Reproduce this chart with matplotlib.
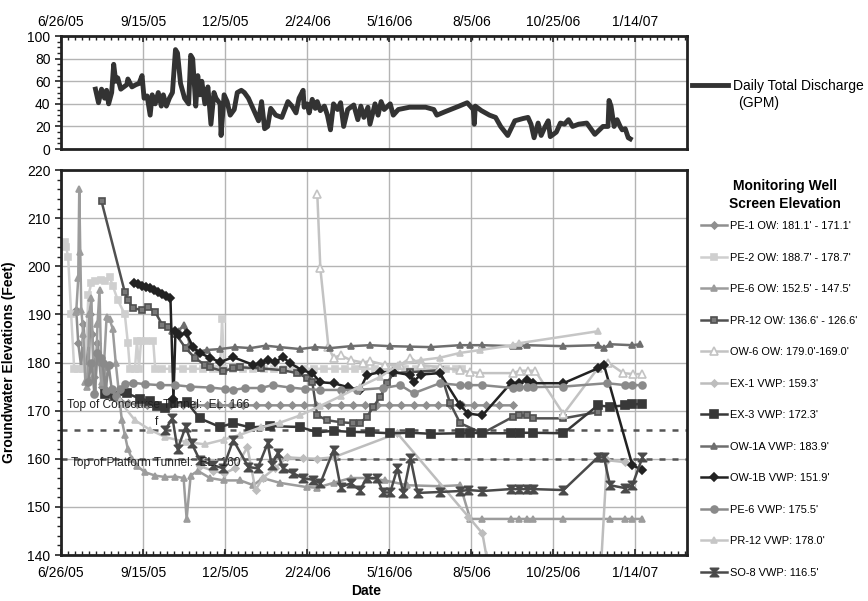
import datetime as dt
import matplotlib
matplotlib.use("Agg")
import matplotlib.pyplot as plt
from matplotlib.path import Path
from matplotlib.ticker import MultipleLocator, FuncFormatter

plt.rcParams['font.family'] = ['Liberation Sans', 'DejaVu Sans']

# x values are days since 6/26/05
START = dt.date(2005, 6, 26)

# ---- top panel: daily total discharge (GPM)
q_day = [34, 37, 40, 43, 45, 47, 50, 52, 54, 56, 59, 65, 66, 70, 74, 77, 80, 82, 85, 88,
         90, 93, 96, 99, 101, 104, 107, 110, 113, 115, 118, 122, 126, 128, 130, 133, 135, 137, 139, 142,
         145, 148, 151, 153, 157, 158, 161, 164, 167, 171, 174, 178, 181, 185, 190, 195, 198, 201, 204, 207,
         212, 218, 221, 224, 228, 232, 235, 239, 240, 243, 245, 248, 251, 253, 256, 260, 263, 266, 269, 273,
         276, 279, 283, 289, 293, 296, 299, 303, 305, 310, 313, 316, 319, 325, 328, 333, 344, 360, 368, 371,
         379, 393, 401, 407, 408, 409, 415, 423, 429, 434, 441, 448, 456, 461, 464, 467, 471, 474, 478, 481,
         483, 489, 493, 497, 501, 505, 511, 519, 527, 535, 540, 541, 543, 546, 549, 552, 554, 557, 560, 562]
q_gpm = [53, 41, 53, 45, 52, 40, 50, 75, 60, 63, 53, 57, 62, 55, 57, 58, 65, 45, 47, 30,
         48, 40, 50, 38, 48, 38, 45, 50, 88, 85, 58, 45, 40, 83, 80, 38, 65, 48, 60, 40,
         55, 22, 50, 45, 40, 12, 48, 42, 30, 35, 50, 52, 50, 45, 35, 25, 42, 18, 20, 36,
         30, 28, 35, 42, 38, 32, 45, 52, 37, 40, 32, 44, 36, 42, 34, 38, 30, 17, 40, 35,
         41, 20, 35, 39, 26, 38, 28, 37, 22, 40, 30, 42, 35, 40, 30, 35, 37, 37, 35, 30,
         33, 38, 41, 35, 22, 38, 34, 30, 28, 20, 12, 25, 27, 28, 22, 10, 23, 12, 20, 25,
         11, 15, 23, 22, 26, 20, 22, 23, 13, 20, 20, 43, 38, 20, 26, 20, 17, 18, 10, 9]

# ---- bottom panel: groundwater elevations (ft)
pe1_ow_day = [15, 17, 20, 22, 24, 27, 29, 31, 33, 36, 38, 40, 43, 45, 48, 52, 58, 66, 75, 85,
              96, 108, 120, 132, 144, 156, 168, 180, 192, 204, 216, 228, 240, 252, 264, 276, 288, 300, 312, 324,
              336, 348, 360, 372, 384, 396, 408, 420, 432, 446]
pe1_ow = [191, 184, 179, 188, 183, 176, 190, 186, 177, 184, 180, 175, 179, 174, 173.5, 172.8, 172, 171.6, 171.3, 171.1,
          171.1, 171.1, 171.1, 171.1, 171.1, 171.1, 171.1, 171.1, 171.1, 171.1, 171.1, 171.1, 171.1, 171.1, 171.1, 171.1, 171.1, 171.1, 171.1, 171.1,
          171.1, 171.1, 171.1, 171.1, 171.1, 171.1, 171.1, 171.1, 171.1, 171.1]

pe2_ow_day = [4, 5, 7, 10, 13, 17, 22, 25, 27, 30, 34, 39, 43, 48, 51, 56, 63, 66, 68, 73,
              75, 77, 79, 84, 91, 93, 100, 110, 120, 130, 140, 150, 157, 159, 161, 170, 180, 190, 200, 210,
              220, 230, 240, 250, 260, 270, 280, 290, 300, 310, 320, 330, 340, 350, 360, 370, 380, 390, 396]
pe2_ow = [205, 204, 202, 190, 178.7, 178.7, 178.7, 184, 194, 196.5, 197, 197.2, 197, 197.8, 196, 193, 190, 184, 178.7, 178.7,
          184.5, 178.7, 184.5, 184.5, 184.5, 178.7, 178.7, 178.7, 178.7, 178.7, 178.7, 178.7, 178.7, 189, 178.7, 178.7, 178.7, 178.7, 178.7, 178.7,
          178.7, 178.7, 178.7, 178.7, 178.7, 178.7, 178.7, 178.7, 178.7, 178.7, 178.7, 178.7, 178.7, 178.7, 178.7, 178.7, 178.7, 178.7, 178.7]

pe6_ow_day = [15, 17, 18, 19, 20, 22, 24, 26, 28, 30, 32, 34, 36, 38, 40, 42, 45, 48, 51, 54,
              57, 60, 63, 66, 70, 75, 83, 93, 103, 113, 121, 124, 128, 135, 147, 161, 177, 190, 199, 216,
              243, 253, 269, 286, 302, 320, 342, 374, 394, 404, 416, 444, 452, 460, 466, 496, 542, 557, 564, 574]
pe6_ow = [190.5, 197.5, 216, 203, 191, 186, 176, 175, 190, 193.5, 177, 174, 188, 195, 176, 178, 189.5, 189, 187, 180,
          174, 168, 165, 162, 160, 158.5, 157.2, 156.5, 156.2, 156.3, 156, 147.5, 156.5, 157.5, 156, 155.5, 155.5, 154.5, 156, 155,
          154.1, 154, 155, 156, 156, 155.5, 154.5, 154.3, 154.5, 147.5, 147.5, 147.5, 147.5, 147.5, 147.5, 147.5, 147.5, 147.5, 147.5, 147.5]

pr12_ow_day = [40, 63, 66, 71, 80, 86, 93, 100, 106, 113, 123, 132, 142, 147, 160, 170, 177, 197, 219, 233,
               243, 248, 253, 263, 276, 288, 295, 302, 308, 315, 322, 328, 345, 374, 384, 394, 416, 446, 452, 460,
               466, 496, 530]
pr12_ow = [213.5, 194.6, 193, 191.3, 190.9, 191.5, 190.5, 187.8, 187.4, 186, 183, 181, 179.5, 179, 178.2, 178.8, 179, 178.8, 178.4, 177.8,
           176.8, 176, 169, 168, 167.6, 167.4, 167.4, 168.7, 170.7, 172.8, 175.7, 177.8, 178, 178.4, 171.6, 167.4, 165.3, 168.7, 169, 169,
           168.4, 168.4, 169.7]

ow6_ow_day = [253, 256, 264, 269, 276, 286, 298, 305, 320, 335, 345, 355, 374, 394, 404, 414, 446, 453, 461, 468,
              496, 530, 540, 555, 565, 574]
ow6_ow = [215, 199.6, 183.2, 181, 181.5, 180.5, 180, 180.3, 179.5, 179.5, 181, 179.5, 179, 178.4, 178, 177.8, 177.8, 178.3, 178.3, 178.3,
          169.3, 178.8, 180, 177.8, 177.6, 177.6]

ex1_vwp_day = [137, 150, 161, 172, 184, 192, 199, 211, 223, 239, 253, 269, 332, 402, 416, 424, 531, 539, 557]
ex1_vwp = [158.5, 157.5, 157, 158, 162.4, 153.5, 156, 158, 160.3, 160.1, 160, 160.3, 165.3, 148, 144.5, 135, 130, 159.7, 159.3]

ex3_vwp_day = [43, 53, 65, 78, 88, 95, 103, 111, 124, 137, 157, 170, 187, 206, 236, 253, 269, 286, 305, 325,
               345, 365, 394, 404, 416, 444, 453, 466, 496, 530, 542, 557, 564, 574]
ex3_vwp = [173.5, 173, 173.6, 172.5, 172, 171, 170.5, 171.6, 171.8, 168.4, 166.6, 167.4, 166.5, 166.8, 166.6, 165.5, 165.8, 165.6, 165.5, 165.3,
           165.4, 165.2, 165.3, 165.4, 165.3, 165.3, 165.4, 165.4, 165.3, 171.1, 170.8, 171.1, 171.3, 171.4]

ow1a_vwp_day = [110, 116, 121, 127, 134, 144, 157, 172, 187, 202, 216, 236, 251, 266, 286, 305, 325, 345, 365, 394,
                404, 416, 446, 452, 460, 496, 530, 536, 542, 564, 572]
ow1a_vwp = [186.5, 186.5, 187.8, 184, 182.2, 182.6, 182.8, 183.2, 183, 183.5, 183.2, 182.8, 183.2, 183, 183.4, 183.6, 183.4, 183.3, 183.2, 183.6,
            183.6, 183.6, 183.4, 183.4, 183.6, 183.4, 183.6, 183, 183.8, 183.6, 183.8]

ow1b_vwp_day = [72, 76, 80, 84, 88, 92, 96, 100, 104, 108, 111, 113, 116, 124, 130, 137, 147, 157, 170, 190, 197,
                204, 211, 219, 226, 238, 248, 256, 269, 283, 295, 302, 315, 328, 345, 348, 355, 374, 394, 402, 416,
                444, 452, 460, 466, 496, 530, 536, 564, 574]
ow1b_vwp = [196.5, 196.4, 196, 195.7, 195.4, 195, 194.6, 194.3, 193.9, 193.5, 172.5, 186.5, 185.8, 186.1, 183.2, 182, 181, 180.1, 181.1, 179.5, 180,
            180.5, 180.1, 181.1, 179.9, 178.4, 177.8, 175.9, 175.7, 174.9, 174.3, 177.4, 178, 178, 177.4, 176, 177.5, 177.8, 171.1, 169.4, 169,
            175.7, 175.8, 176.3, 175.7, 175.7, 178.8, 179.5, 158.7, 157.6]

pe6_vwp_day = [27, 30, 33, 36, 39, 41, 44, 47, 50, 54, 58, 63, 71, 83, 98, 113, 127, 147, 162, 170,
               182, 197, 209, 226, 241, 256, 276, 292, 318, 335, 348, 374, 394, 402, 416, 446, 452, 460, 466, 496,
               539, 557, 564, 574]
pe6_vwp = [176, 180, 173.5, 182, 181, 180, 174, 179.5, 174.5, 173, 174.5, 175.5, 175.8, 175.5, 175.3, 175.3, 175, 174.8, 174.5, 174.3,
           174.7, 174.7, 175.3, 174.8, 174.5, 174.3, 174.3, 174.3, 174.7, 175.3, 173.6, 175.7, 175.3, 175.3, 175.3, 174.7, 174.9, 174.9, 174.9, 175,
           175.7, 175.3, 175.3, 175.3]

pr12_vwp_day = [58, 73, 88, 103, 123, 142, 161, 177, 197, 216, 236, 256, 276, 295, 315, 333, 355, 374, 394, 414,
                446, 452, 530]
pr12_vwp = [172, 168, 166, 164.5, 163.5, 163, 164, 165, 166.5, 167.5, 169, 171, 173, 175, 177, 179.5, 180.5, 181, 182, 182.6,
            183.6, 184, 186.5]

so8_vwp_day = [103, 110, 115, 123, 129, 137, 150, 160, 170, 185, 194, 204, 208, 214, 219, 229, 239, 249, 256, 269,
               276, 286, 295, 302, 312, 318, 325, 332, 338, 345, 352, 374, 394, 402, 416, 444, 452, 460, 466, 496,
               530, 536, 542, 557, 564, 574]
so8_vwp = [166, 168.5, 162, 166.6, 163.2, 159.7, 158.7, 158, 163.9, 158.3, 158, 163.2, 158.7, 161.2, 158, 157, 156, 155.6, 154.9, 161.8,
           154.1, 154.9, 153.5, 156, 156, 153, 153, 158, 152.9, 160.1, 152.9, 153.1, 153.3, 153.5, 153.3, 153.7, 153.7, 153.7, 153.7, 153.5,
           160.3, 160.3, 154.5, 153.9, 154.5, 160.3]

hourglass = Path([(-1, 1), (1, 1), (-1, -1), (1, -1), (-1, 1)],
                 [Path.MOVETO, Path.LINETO, Path.LINETO, Path.LINETO, Path.CLOSEPOLY])

# (label, days, values, line colour, marker, marker face, marker size)
series = [
    ("PE-1 OW: 181.1' - 171.1'", pe1_ow_day, pe1_ow, '#8f8f8f', 'D', '#8f8f8f', 3.5),
    ("PE-2 OW: 188.7' - 178.7'", pe2_ow_day, pe2_ow, '#cfcfcf', 's', '#cfcfcf', 4.5),
    ("PE-6 OW: 152.5' - 147.5'", pe6_ow_day, pe6_ow, '#9c9c9c', '^', '#9c9c9c', 4.5),
    ("PR-12 OW: 136.6' - 126.6'", pr12_ow_day, pr12_ow, '#505050', 's', '#7a7a7a', 5),
    ("OW-6 OW: 179.0'-169.0'", ow6_ow_day, ow6_ow, '#c3c3c3', '^', 'white', 6),
    ("EX-1 VWP: 159.3'", ex1_vwp_day, ex1_vwp, '#bdbdbd', 'D', '#bdbdbd', 3.5),
    ("EX-3 VWP: 172.3'", ex3_vwp_day, ex3_vwp, '#383838', 's', '#383838', 5.5),
    ("OW-1A VWP: 183.9'", ow1a_vwp_day, ow1a_vwp, '#6e6e6e', '^', '#6e6e6e', 4.5),
    ("OW-1B VWP: 151.9'", ow1b_vwp_day, ow1b_vwp, '#222222', 'D', '#222222', 4.5),
    ("PE-6 VWP: 175.5'", pe6_vwp_day, pe6_vwp, '#8a8a8a', 'o', '#8a8a8a', 5),
    ("PR-12 VWP: 178.0'", pr12_vwp_day, pr12_vwp, '#c6c6c6', '^', '#c6c6c6', 5),
    ("SO-8 VWP: 116.5'", so8_vwp_day, so8_vwp, '#4a4a4a', hourglass, '#4a4a4a', 6),
]


def day_label(d, pos=None):
    t = START + dt.timedelta(days=int(round(d)))
    return f"{t.month}/{t.day}/{t.year % 100:02d}"


def style_axes(ax):
    ax.grid(True, color='#b4b4b4', linewidth=1.0)
    ax.set_axisbelow(True)
    for s in ax.spines.values():
        s.set_linewidth(2.0)
        s.set_color('#222222')
    ax.xaxis.set_major_locator(MultipleLocator(81))
    ax.xaxis.set_minor_locator(MultipleLocator(7))
    ax.xaxis.set_major_formatter(FuncFormatter(day_label))
    ax.tick_params(axis='both', which='major', labelsize=10, length=4, width=1.2, color='#222222')
    ax.tick_params(axis='both', which='minor', length=3, width=1.0, color='#222222')
    ax.set_xlim(0, 618)


fig = plt.figure(figsize=(8.68, 6.01), dpi=100)
ax1 = fig.add_axes([0.0703, 0.752, 0.7212, 0.188])
ax2 = fig.add_axes([0.0703, 0.0765, 0.7212, 0.6406])

# top panel
ax1.plot(q_day, q_gpm, color='#333333', linewidth=3.5, solid_joinstyle='round',
         label='Daily Total Discharge')
style_axes(ax1)
ax1.set_ylim(0, 100)
ax1.yaxis.set_major_locator(MultipleLocator(20))
ax1.yaxis.set_minor_locator(MultipleLocator(5))
ax1.xaxis.tick_top()
ax1.tick_params(axis='x', which='both', top=True, bottom=False, direction='in', pad=5)
ax1.legend(loc='center left', bbox_to_anchor=(692 / 868, 1 - 86 / 601), bbox_transform=fig.transFigure,
           frameon=False, fontsize=10, handlelength=2.6, handletextpad=0.35, borderaxespad=0.0,
           borderpad=0.0)
fig.text(738 / 868, 1 - 103 / 601, '(GPM)', fontsize=10, va='center', ha='left')

# bottom panel
for label, d, v, c, m, mf, ms in series:
    ax2.plot(d, v, color=c, linewidth=1.8, marker=m, markersize=ms,
             markerfacecolor=mf, markeredgecolor=c, markeredgewidth=1.2, label=label)

ax2.axhline(166, color='#555555', linestyle=(0, (2.4, 2.8)), linewidth=1.8, zorder=1.5)
ax2.axhline(160, color='#555555', linestyle=(0, (2.4, 2.8)), linewidth=1.8, zorder=1.5)
ax2.text(6, 171.1, "Top of Concourse Tunnel:  EL: 166", fontsize=8.6, va='center', color='#222222')
ax2.text(10, 159.1, "Top of Platform Tunnel:  EL: 160", fontsize=8.6, va='center', color='#222222')
ax2.text(93, 167.6, "f", fontsize=8.6, va='center', color='#222222')

style_axes(ax2)
ax2.set_ylim(140, 220)
ax2.yaxis.set_major_locator(MultipleLocator(10))
ax2.yaxis.set_minor_locator(MultipleLocator(2))
ax2.tick_params(axis='x', which='both', direction='in', pad=8)
ax2.tick_params(axis='y', which='both', direction='out')
ax2.set_xlabel('Date', fontsize=10, fontweight='bold')
ax2.xaxis.set_label_coords(0.487, -0.075)
ax2.set_ylabel('Groundwater Elevations (Feet)', fontsize=10, fontweight='bold', labelpad=8)

fig.text(785 / 868, 1 - 195 / 601, 'Monitoring Well\nScreen Elevation', fontsize=10,
         fontweight='bold', ha='center', va='center', multialignment='center', linespacing=1.3)
leg = ax2.legend(loc='upper left', bbox_to_anchor=(701 / 868, 1 - 221 / 601),
                 bbox_transform=fig.transFigure, frameon=False, fontsize=7.9,
                 handlelength=2.4, handletextpad=0.2, labelspacing=1.96, borderaxespad=0.0,
                 borderpad=0.0)

fig.savefig('out.png', dpi=100)
